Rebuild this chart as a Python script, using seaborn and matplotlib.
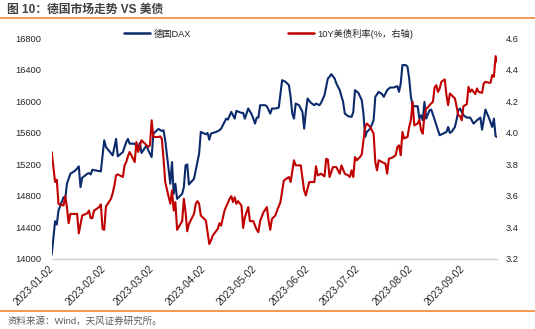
import matplotlib
matplotlib.use("Agg")
import matplotlib.pyplot as plt
import matplotlib.dates as mdates
from matplotlib.lines import Line2D
import seaborn as sns
import pandas as pd

sns.set_theme(style="white")
plt.rcParams["font.family"] = ["Liberation Sans", "Noto Sans CJK SC", "DejaVu Sans"]
plt.rcParams["axes.unicode_minus"] = False

# ---------------- data ----------------
YEAR = "2023-"
title_text = "图 10：德国市场走势 VS 美债"
source_text = "资料来源：Wind，天风证券研究所。"
dax_label = "德国DAX"
ust_label = "10Y美债利率(%，右轴)"

dax_dates = [
    "01-02", "01-04", "01-05", "01-06", "01-09", "01-10", "01-11", "01-13", "01-16", "01-18",
    "01-19", "01-20", "01-23", "01-24", "01-25", "01-26", "01-30", "01-31", "02-02", "02-03",
    "02-07", "02-09", "02-10", "02-13", "02-15", "02-16", "02-17", "02-20", "02-22", "02-23",
    "02-24", "02-27", "02-28", "03-02", "03-03", "03-06", "03-08", "03-09", "03-10", "03-13",
    "03-14", "03-15", "03-16", "03-17", "03-20", "03-21", "03-22", "03-23", "03-24", "03-27",
    "03-28", "03-30", "03-31", "04-03", "04-04", "04-05", "04-06", "04-09", "04-11", "04-12",
    "04-15", "04-16", "04-18", "04-20", "04-21", "04-24", "04-25", "04-26", "04-28", "04-30",
    "05-01", "05-02", "05-03", "05-04", "05-05", "05-08", "05-09", "05-11", "05-12", "05-14",
    "05-16", "05-18", "05-20", "05-22", "05-23", "05-24", "05-25", "05-26", "05-28", "05-30",
    "05-31", "06-01", "06-02", "06-04", "06-06", "06-07", "06-09", "06-10", "06-12", "06-14",
    "06-15", "06-16", "06-18", "06-19", "06-21", "06-23", "06-24", "06-26", "06-28", "06-29",
    "06-30", "07-02", "07-04", "07-05", "07-06", "07-07", "07-09", "07-11", "07-12", "07-14",
    "07-16", "07-17", "07-19", "07-20", "07-21", "07-23", "07-25", "07-26", "07-27", "07-28",
    "07-30", "07-31", "08-01", "08-02", "08-03", "08-04", "08-06", "08-07", "08-08", "08-09",
    "08-10", "08-11", "08-13", "08-14", "08-16", "08-18", "08-19", "08-21", "08-23", "08-24",
    "08-25", "08-26", "08-28", "08-29", "08-30", "08-31", "09-02", "09-04", "09-06", "09-08",
    "09-10", "09-12", "09-13", "09-15", "09-17", "09-19", "09-20", "09-21", "09-22",
]
dax_values = [
    14055, 14479, 14437, 14615, 14784, 14763, 14954, 15081, 15124, 15175,
    14912, 15030, 15081, 15090, 15073, 15132, 15115, 15111, 15506, 15421,
    15315, 15523, 15302, 15357, 15484, 15523, 15463, 15463, 15400, 15472,
    15345, 15442, 15378, 15294, 15591, 15650, 15624, 15633, 15506, 14954,
    15230, 14827, 14954, 14763, 14827, 14912, 15188, 15200, 14946, 15018,
    15124, 15336, 15612, 15582, 15599, 15514, 15591, 15612, 15633, 15654,
    15781, 15769, 15866, 15781, 15879, 15854, 15854, 15781, 15909, 15837,
    15781, 15718, 15794, 15794, 15951, 15951, 15938, 15845, 15909, 15909,
    15921, 16269, 16248, 16206, 16057, 15845, 15781, 15972, 15951, 15866,
    15654, 15866, 16036, 15981, 15951, 15972, 15951, 15981, 16078, 16290,
    16312, 16346, 16290, 16227, 16142, 15993, 15845, 15811, 15803, 15866,
    16142, 16108, 16015, 15845, 15548, 15612, 15654, 15760, 16057, 16121,
    16091, 16057, 16142, 16163, 16176, 16176, 16193, 16121, 16227, 16460,
    16460, 16439, 16290, 16057, 15951, 15938, 15938, 15781, 15824, 15760,
    15993, 15781, 15887, 15896, 15769, 15633, 15570, 15591, 15612, 15675,
    15599, 15612, 15675, 15769, 15887, 15909, 15824, 15794, 15794, 15718,
    15760, 15794, 15641, 15896, 15794, 15675, 15781, 15557, 15548,
]

ust_dates = [
    "01-02", "01-03", "01-04", "01-05", "01-06", "01-09", "01-10", "01-11", "01-12", "01-13",
    "01-17", "01-18", "01-20", "01-23", "01-24", "01-25", "01-26", "01-27", "01-30", "01-31",
    "02-01", "02-02", "02-03", "02-06", "02-07", "02-08", "02-09", "02-10", "02-13", "02-14",
    "02-15", "02-16", "02-17", "02-20", "02-21", "02-22", "02-24", "02-27", "02-28", "03-01",
    "03-02", "03-03", "03-06", "03-07", "03-08", "03-09", "03-10", "03-13", "03-14", "03-15",
    "03-16", "03-17", "03-20", "03-21", "03-22", "03-23", "03-24", "03-27", "03-28", "03-29",
    "03-30", "03-31", "04-03", "04-04", "04-05", "04-06", "04-07", "04-10", "04-11", "04-12",
    "04-14", "04-15", "04-17", "04-18", "04-19", "04-20", "04-21", "04-22", "04-24", "04-25",
    "04-26", "04-28", "04-29", "05-01", "05-03", "05-04", "05-05", "05-07", "05-09", "05-10",
    "05-11", "05-12", "05-14", "05-15", "05-17", "05-19", "05-22", "05-23", "05-25", "05-26",
    "05-29", "05-31", "06-01", "06-03", "06-06", "06-07", "06-08", "06-10", "06-12", "06-13",
    "06-14", "06-15", "06-17", "06-19", "06-21", "06-22", "06-24", "06-26", "06-27", "06-28",
    "06-29", "06-30", "07-01", "07-03", "07-04", "07-06", "07-07", "07-09", "07-11", "07-12",
    "07-13", "07-14", "07-16", "07-18", "07-19", "07-20", "07-22", "07-24", "07-25", "07-26",
    "07-27", "07-28", "07-29", "07-30", "07-31", "08-01", "08-02", "08-03", "08-04", "08-06",
    "08-07", "08-08", "08-09", "08-10", "08-11", "08-12", "08-13", "08-15", "08-16", "08-17",
    "08-18", "08-19", "08-20", "08-22", "08-23", "08-24", "08-25", "08-26", "08-28", "08-29",
    "08-30", "08-31", "09-01", "09-02", "09-03", "09-04", "09-05", "09-06", "09-07", "09-09",
    "09-10", "09-11", "09-13", "09-14", "09-15", "09-17", "09-18", "09-19", "09-20", "09-21",
    "09-22",
]
ust_values = [
    3.879, 3.783, 3.688, 3.703, 3.550, 3.539, 3.599, 3.529, 3.427, 3.486,
    3.486, 3.363, 3.476, 3.490, 3.507, 3.459, 3.459, 3.507, 3.529, 3.546,
    3.391, 3.385, 3.533, 3.582, 3.618, 3.667, 3.730, 3.737, 3.720, 3.794,
    3.815, 3.851, 3.879, 3.815, 3.942, 3.879, 3.953, 3.921, 3.911, 3.921,
    4.080, 3.974, 3.974, 3.978, 3.963, 3.836, 3.688, 3.550, 3.635, 3.507,
    3.561, 3.385, 3.440, 3.582, 3.497, 3.376, 3.423, 3.486, 3.550, 3.567,
    3.550, 3.476, 3.444, 3.370, 3.295, 3.317, 3.348, 3.391, 3.427, 3.412,
    3.507, 3.533, 3.582, 3.599, 3.561, 3.592, 3.550, 3.567, 3.539, 3.397,
    3.465, 3.529, 3.440, 3.440, 3.385, 3.370, 3.440, 3.497, 3.529, 3.444,
    3.385, 3.455, 3.476, 3.507, 3.561, 3.698, 3.720, 3.688, 3.826, 3.794,
    3.794, 3.635, 3.603, 3.688, 3.688, 3.788, 3.730, 3.741, 3.724, 3.836,
    3.830, 3.720, 3.783, 3.783, 3.741, 3.794, 3.741, 3.730, 3.720, 3.762,
    3.720, 3.847, 3.826, 3.847, 3.864, 4.038, 4.059, 4.038, 3.995, 3.815,
    3.762, 3.826, 3.815, 3.804, 3.741, 3.836, 3.843, 3.858, 3.910, 3.921,
    3.858, 4.006, 3.964, 3.970, 3.974, 4.038, 4.080, 4.197, 4.048, 4.059,
    4.084, 4.017, 3.995, 4.112, 4.155, 4.161, 4.176, 4.197, 4.288, 4.303,
    4.260, 4.282, 4.324, 4.339, 4.239, 4.176, 4.250, 4.239, 4.218, 4.165,
    4.112, 4.106, 4.080, 4.169, 4.176, 4.182, 4.292, 4.260, 4.275, 4.246,
    4.282, 4.260, 4.254, 4.314, 4.324, 4.318, 4.318, 4.367, 4.356, 4.487,
    4.451,
]

left_ticks = [14000, 14400, 14800, 15200, 15600, 16000, 16400, 16800]
right_ticks = [3.2, 3.4, 3.6, 3.8, 4.0, 4.2, 4.4, 4.6]
xtick_dates = ["2023-01-02", "2023-02-02", "2023-03-02", "2023-04-02", "2023-05-02",
               "2023-06-02", "2023-07-02", "2023-08-02", "2023-09-02"]

dax = pd.DataFrame({"date": pd.to_datetime([YEAR + d for d in dax_dates]), "value": dax_values})
ust = pd.DataFrame({"date": pd.to_datetime([YEAR + d for d in ust_dates]), "value": ust_values})

# ---------------- styling ----------------
W, H = 535, 329
BLUE = "#0B2A6B"
RED = "#C00000"
ORANGE = "#EE7F22"
TXT = "#262626"

fig = plt.figure(figsize=(W / 100, H / 100), dpi=100)
fig.patch.set_facecolor("white")
ax_l, ax_r, ax_t, ax_b = 51.7, 497.3, 38.3, 259.0
ax = fig.add_axes([ax_l / W, 1 - ax_b / H, (ax_r - ax_l) / W, (ax_b - ax_t) / H])
ax2 = ax.twinx()

sns.lineplot(data=dax, x="date", y="value", ax=ax, color=BLUE, linewidth=1.5, legend=False)
sns.lineplot(data=ust, x="date", y="value", ax=ax2, color=RED, linewidth=1.5, legend=False)

ax.set_xlim(dax["date"].iloc[0], dax["date"].iloc[-1])
ax.set_ylim(left_ticks[0], left_ticks[-1])
ax2.set_ylim(right_ticks[0], right_ticks[-1])
ax.set_yticks(left_ticks)
ax.set_yticklabels([str(v) for v in left_ticks])
ax2.set_yticks(right_ticks)
ax2.set_yticklabels([f"{v:.1f}" for v in right_ticks])
ax.set_xticks(pd.to_datetime(xtick_dates))
ax.xaxis.set_major_formatter(mdates.DateFormatter("%Y-%m-%d"))

for a in (ax, ax2):
    a.set_xlabel("")
    a.set_ylabel("")
    for s in a.spines.values():
        s.set_visible(False)
    a.grid(False)
    a.set_facecolor("none")

ax.spines["bottom"].set_visible(True)
ax.spines["bottom"].set_color("#D0D0D0")
ax.spines["bottom"].set_linewidth(1.0)

ax.tick_params(axis="x", length=4, width=0.8, color="#C8C8C8", direction="out",
               labelsize=7.3, labelcolor=TXT, pad=2)
for lab in ax.get_xticklabels():
    lab.set_rotation(45)
    lab.set_ha("right")
    lab.set_va("center")
    lab.set_rotation_mode("anchor")
ax.tick_params(axis="y", length=0, labelsize=6.7, labelcolor=TXT, pad=7.7)
ax2.tick_params(axis="y", length=0, labelsize=6.7, labelcolor=TXT, pad=6.3)

# legend
handles = [Line2D([], [], color=BLUE, lw=1.8), Line2D([], [], color=RED, lw=1.8)]
fig.legend(handles, [dax_label, ust_label], loc="center left",
           bbox_to_anchor=(124.0 / W, 1 - 33.5 / H), ncol=2, frameon=False,
           fontsize=6.7, handlelength=2.8, handletextpad=0.4, columnspacing=10.4,
           borderpad=0, borderaxespad=0, labelcolor=TXT)

# title, rules, source
fig.text(7 / W, 1 - 9.5 / H, title_text, fontsize=8.5, fontweight="bold",
         color="#404040", ha="left", va="center")
fig.add_artist(Line2D([0, 1], [1 - 18.3 / H, 1 - 18.3 / H], color=ORANGE, lw=1.1,
                      transform=fig.transFigure))
fig.add_artist(Line2D([0, 1], [1 - 310.5 / H, 1 - 310.5 / H], color=ORANGE, lw=1.1,
                      transform=fig.transFigure))
fig.text(7 / W, 1 - 321.5 / H, source_text, fontsize=6.8, color="#595959",
         ha="left", va="center")

fig.savefig("out.png", dpi=100, facecolor="white")
